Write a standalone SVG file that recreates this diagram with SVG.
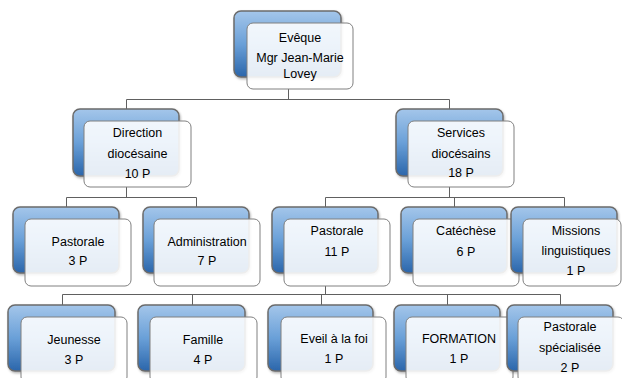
<svg xmlns="http://www.w3.org/2000/svg" width="622" height="378" viewBox="0 0 622 378">
<defs>
<linearGradient id="bg" x1="0" y1="0" x2="0" y2="1">
<stop offset="0" stop-color="#a4c6ea"/>
<stop offset="0.5" stop-color="#6aa0d8"/>
<stop offset="1" stop-color="#2b66ab"/>
</linearGradient>
<filter id="sh" x="-10%" y="-10%" width="130%" height="130%">
<feDropShadow dx="1" dy="1.5" stdDeviation="1.2" flood-color="#000" flood-opacity="0.3"/>
</filter>
</defs>
<style>
.b{fill:url(#bg);stroke:#6b6b6b;stroke-width:1.5;filter:url(#sh)}
.w{fill:#fff;fill-opacity:0.88;stroke:#808080;stroke-width:1}
.t{font-family:"Liberation Sans",Arial,sans-serif;font-size:12.5px;fill:#000;text-anchor:middle}
.c{fill:none;stroke:#606060;stroke-width:1}
</style>
<rect width="622" height="378" fill="#fff"/>
<g id="connectors">
<path class="c" d="M288.5 89V99.5M126.5 109V99.5H449.5V109"/>
<path class="c" d="M126.5 187V197.5M66.5 207V197.5H196.5V207"/>
<path class="c" d="M449.5 187V197.5M325.5 207V197.5H564.5V207M454.5 197.5V207"/>
<path class="c" d="M325.5 286V294.5M62.5 305V294.5H560.5V305M192.5 294.5V305M321.5 294.5V305M447.5 294.5V305"/>
</g>
<g id="eveque">
<rect class="b" x="234" y="11" width="107" height="66" rx="7"/>
<rect class="w" x="247" y="23" width="106" height="66" rx="6"/>
<text class="t" x="300" y="42">Evêque</text>
<text class="t" x="300" y="62">Mgr Jean-Marie</text>
<text class="t" x="300" y="78">Lovey</text>
</g>
<g id="direction">
<rect class="b" x="73" y="109" width="106" height="67" rx="7"/>
<rect class="w" x="84" y="121" width="107" height="66" rx="6"/>
<text class="t" x="137.5" y="137">Direction</text>
<text class="t" x="137.5" y="158">diocésaine</text>
<text class="t" x="137.5" y="178">10 P</text>
</g>
<g id="services">
<rect class="b" x="396" y="109" width="107" height="67" rx="7"/>
<rect class="w" x="408" y="121" width="106" height="66" rx="6"/>
<text class="t" x="461" y="137">Services</text>
<text class="t" x="461" y="158">diocésains</text>
<text class="t" x="461" y="177">18 P</text>
</g>
<g id="pastorale-dir">
<rect class="b" x="13" y="207" width="106" height="66" rx="7"/>
<rect class="w" x="25" y="219" width="106" height="67" rx="6"/>
<text class="t" x="78" y="246">Pastorale</text>
<text class="t" x="78" y="265">3 P</text>
</g>
<g id="administration">
<rect class="b" x="143" y="207" width="106" height="66" rx="7"/>
<rect class="w" x="154" y="219" width="106" height="67" rx="6"/>
<text class="t" x="207" y="246">Administration</text>
<text class="t" x="207" y="265">7 P</text>
</g>
<g id="pastorale">
<rect class="b" x="272" y="207" width="106" height="66" rx="7"/>
<rect class="w" x="284" y="219" width="106" height="67" rx="6"/>
<text class="t" x="337" y="235">Pastorale</text>
<text class="t" x="337" y="256">11 P</text>
</g>
<g id="catechese">
<rect class="b" x="401" y="207" width="106" height="66" rx="7"/>
<rect class="w" x="413" y="219" width="106" height="67" rx="6"/>
<text class="t" x="466" y="235">Catéchèse</text>
<text class="t" x="466" y="256">6 P</text>
</g>
<g id="missions">
<rect class="b" x="511" y="207" width="106" height="66" rx="7"/>
<rect class="w" x="523" y="219" width="98" height="67" rx="6"/>
<text class="t" x="576" y="235">Missions</text>
<text class="t" x="576" y="255">linguistiques</text>
<text class="t" x="576" y="275">1 P</text>
</g>
<g id="jeunesse">
<rect class="b" x="8" y="305" width="107" height="66" rx="7"/>
<rect class="w" x="21" y="317" width="106" height="66" rx="6"/>
<text class="t" x="74" y="344">Jeunesse</text>
<text class="t" x="74" y="364">3 P</text>
</g>
<g id="famille">
<rect class="b" x="138" y="305" width="107" height="66" rx="7"/>
<rect class="w" x="150" y="317" width="107" height="66" rx="6"/>
<text class="t" x="203" y="344">Famille</text>
<text class="t" x="203" y="364">4 P</text>
</g>
<g id="eveil">
<rect class="b" x="268" y="305" width="105" height="66" rx="7"/>
<rect class="w" x="281" y="317" width="105" height="66" rx="6"/>
<text class="t" x="334" y="343">Eveil à la foi</text>
<text class="t" x="334" y="363">1 P</text>
</g>
<g id="formation">
<rect class="b" x="394" y="305" width="106" height="66" rx="7"/>
<rect class="w" x="406" y="317" width="107" height="66" rx="6"/>
<text class="t" x="459" y="343">FORMATION</text>
<text class="t" x="459" y="363">1 P</text>
</g>
<g id="pastorale-specialisee">
<rect class="b" x="507" y="305" width="106" height="66" rx="7"/>
<rect class="w" x="518" y="317" width="106" height="66" rx="6"/>
<text class="t" x="570" y="331">Pastorale</text>
<text class="t" x="570" y="352">spécialisée</text>
<text class="t" x="570" y="372">2 P</text>
</g>
</svg>
